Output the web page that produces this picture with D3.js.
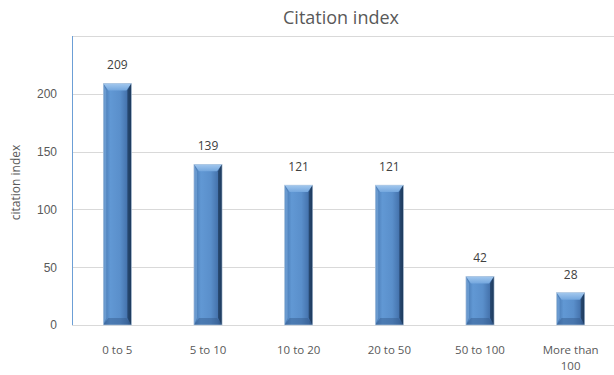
<!DOCTYPE html>
<html>
<head>
<meta charset="utf-8">
<script src="https://cdnjs.cloudflare.com/ajax/libs/d3/7.8.5/d3.min.js"></script>
<style>
  html, body { margin: 0; padding: 0; background: #fff; }
  svg { display: block; font-family: "Open Sans", "Liberation Sans", sans-serif; }
</style>
</head>
<body>
<svg id="chart" width="614" height="375"></svg>
<script>
// Citation counts per range
const categories = ["0 to 5", "5 to 10", "10 to 20", "20 to 50", "50 to 100", "More than 100"];
const values = [209, 139, 121, 121, 42, 28];
const yTicks = [0, 50, 100, 150, 200];
const titleText = "Citation index";
const yLabel = "citation index";

const svg = d3.select("#chart");
const margin = { left: 72, right: -2, top: 36, bottom: 50 };
const W = 614, H = 375;

const x = d3.scaleBand().domain(categories).range([margin.left, W - margin.right]).paddingInner(0.69).paddingOuter(0.345);
const y = d3.scaleLinear().domain([0, 250]).range([H - margin.bottom, margin.top]);

const defs = svg.append("defs");
const grad = defs.append("linearGradient").attr("id", "barFace").attr("x1", 0).attr("x2", 1).attr("y1", 0).attr("y2", 0);
[[0, "#4474ad"], [0.25, "#6198d4"], [0.6, "#5a8fcb"], [0.85, "#4573ad"], [1, "#25466f"]]
  .forEach(([o, c]) => grad.append("stop").attr("offset", o).attr("stop-color", c));
const topGrad = defs.append("linearGradient").attr("id", "barTop").attr("x1", 0).attr("x2", 0).attr("y1", 0).attr("y2", 1);
[[0, "#a3c8ee"], [1, "#74a7de"]].forEach(([o, c]) => topGrad.append("stop").attr("offset", o).attr("stop-color", c));

// Gridlines
svg.append("g").selectAll("line").data(yTicks.concat([250])).join("line")
  .attr("x1", margin.left).attr("x2", W)
  .attr("y1", d => Math.round(y(d)) + 0.5).attr("y2", d => Math.round(y(d)) + 0.5)
  .attr("stroke", "#d9d9d9").attr("stroke-width", 1);

// Y axis
const yAxis = svg.append("g").attr("transform", `translate(${margin.left},0)`)
  .call(d3.axisLeft(y).tickValues(yTicks).tickSize(0).tickPadding(15));
yAxis.select(".domain").attr("stroke", "#6c9fd6").attr("d", `M0.5,${y(0)}V${y(250)}`);
yAxis.selectAll("text").attr("fill", "#595959").attr("font-size", 12);

// Bars with bevelled faces
const bars = svg.append("g").selectAll("g").data(categories.map((c, i) => ({ c, v: values[i] }))).join("g");
const bw = x.bandwidth();
bars.each(function (d) {
  const g = d3.select(this);
  const x0 = x(d.c), x1 = x0 + bw, y0 = y(d.v), y1 = y(0);
  const b = Math.min(7, (y1 - y0) / 3);
  g.append("rect").attr("x", x0).attr("y", y0).attr("width", bw).attr("height", y1 - y0)
    .attr("fill", "url(#barFace)");
  // top bevel
  g.append("path").attr("d", `M${x0},${y0}L${x1},${y0}L${x1 - 5},${y0 + b}L${x0 + 5},${y0 + b}Z`)
    .attr("fill", "url(#barTop)");
  // bottom bevel
  g.append("path").attr("d", `M${x0},${y1}L${x1},${y1}L${x1 - 5},${y1 - b}L${x0 + 5},${y1 - b}Z`)
    .attr("fill", "#34598a").attr("opacity", 0.45);
  // left edge highlight
  g.append("path").attr("d", `M${x0},${y0}L${x0 + 3},${y0 + b}L${x0 + 3},${y1 - b}L${x0},${y1}Z`)
    .attr("fill", "#7eaee0").attr("opacity", 0.6);
  // right edge shadow
  g.append("path").attr("d", `M${x1},${y0}L${x1 - 4},${y0 + b}L${x1 - 4},${y1 - b}L${x1},${y1}Z`)
    .attr("fill", "#17314f").attr("opacity", 0.6);
  g.append("rect").attr("x", x0).attr("y", y0).attr("width", bw).attr("height", y1 - y0)
    .attr("fill", "none").attr("stroke", "#b7cbe0").attr("stroke-width", 0.6);
});

// Value labels
svg.append("g").selectAll("text").data(values).join("text")
  .attr("x", (d, i) => x(categories[i]) + bw / 2)
  .attr("y", d => y(d) - 14)
  .attr("text-anchor", "middle").attr("fill", "#404040").attr("font-size", 12)
  .text(d => d);

// Category labels, the long one wrapped onto two lines
const labelLines = categories.flatMap(c => {
  const parts = c === "More than 100" ? ["More than", "100"] : [c];
  return parts.map((p, i) => ({ c, p, i }));
});
svg.append("g").selectAll("text").data(labelLines).join("text")
  .attr("x", d => x(d.c) + bw / 2)
  .attr("y", d => y(0) + 29 + d.i * 15.8)
  .attr("text-anchor", "middle").attr("fill", "#595959").attr("font-size", 11.5)
  .text(d => d.p);

// Title
svg.append("text").attr("x", 341).attr("y", 24).attr("text-anchor", "middle")
  .attr("fill", "#595959").attr("font-size", 18).text(titleText);

// Y axis title
svg.append("text").attr("transform", `translate(20,${(y(0) + y(250)) / 2 + 2}) rotate(-90)`)
  .attr("text-anchor", "middle").attr("fill", "#595959").attr("font-size", 12).text(yLabel);
</script>
</body>
</html>
